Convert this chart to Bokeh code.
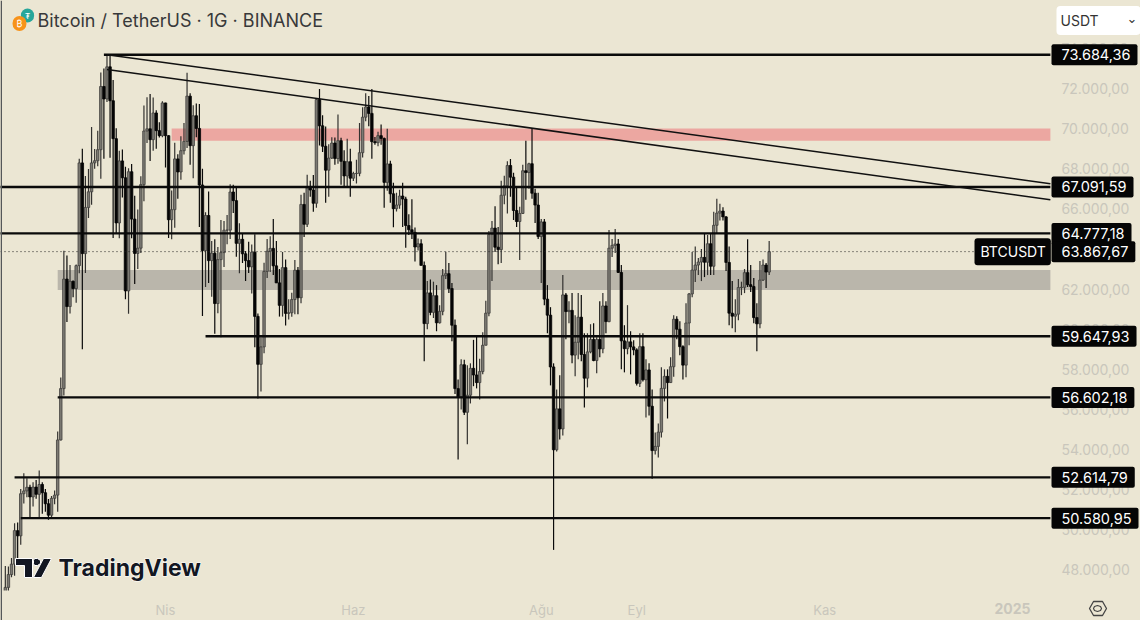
#BTCUSDT daily candles with levels, trend lines and zones
import pandas as pd
from bokeh.plotting import figure
from bokeh.embed import file_html
from bokeh.resources import INLINE
from bokeh.models import FixedTicker, Label, PolyAnnotation, Range1d, GlobalInlineStyleSheet

#candles, one per day from 9 Feb 2024, one row per month
first_day = "2024-02-09"
opens = [45290,47130,47770,48290,49960,49700,51800,51940,52120,51640,52130,51770,52260,51850,51300,50730,51570,51730,54480,57040,62500,
    61130,62390,62030,63170,68290,63770,66070,66850,68290,68400,68950,72100,71480,73080,71390,69500,65300,68390,67550,61910,67850,65490,63780,64040,67210,69880,69990,69450,70780,69900,69650,
    71280,69650,65460,65960,68490,67840,68900,69360,71620,69150,70640,70010,67190,63920,65670,63420,63790,61280,63470,63820,64940,64940,66840,66410,64280,64480,63760,63420,63110,63840,
    60640,58250,59120,62880,63890,64030,63160,62310,61190,63070,60790,60820,61480,62940,61570,66220,65230,67050,66940,66280,71450,70140,69120,67930,68530,69280,68510,69400,68370,67640,68350,
    67530,67760,67770,68800,70570,71080,70760,69350,69300,69650,69510,67320,68240,66750,66010,66190,66640,66490,65170,64960,64830,64100,64260,63180,60280,61810,60840,61670,60320,60890,
    62670,62770,62030,60200,57040,56630,58230,55860,56710,58050,57720,57340,57890,59200,60800,64720,65040,64090,63970,66680,67150,68160,67580,65920,65370,65770,67900,67810,68250,66780,66190,
    64620,65350,61500,60700,58120,53990,56030,55030,61710,60880,60940,58710,59350,60600,58740,57560,58870,59490,58440,59490,59020,61160,60380,64040,64180,64250,62830,59420,59030,59370,59120,
    58970,57300,59130,57480,57970,56160,53950,54160,54870,57050,57650,57340,58130,60500,60000,59130,58210,60310,61760,62950,63200,63350,63580,63340,64260,63140,65180,65790,65890,65600,
    63330,60800,60650,60750,62080,62090,62820,62220,62130,60580,60270,62450,63200,62850]
highs = [48200,48170,48590,50330,50360,52040,52820,52570,52250,52370,52480,52960,52370,52040,51540,51690,51960,54900,57590,63910,63680,
    63200,62430,63230,68500,69000,67640,67990,70080,68980,69900,72800,73000,73650,73684,72420,70020,68900,68960,68100,68030,68240,66650,65970,67620,71150,71560,71730,71550,70920,70320,71370,
    71290,69670,66910,69290,68720,69620,70280,72780,71760,71170,71250,71230,68000,65830,66870,64400,64480,64100,65450,65390,65700,67230,67200,67080,65280,64800,63900,64360,64220,64730,
    60780,59600,63320,64500,64640,65490,64400,63000,63850,63470,61490,61820,63450,63100,66700,66800,67700,67400,67690,71500,71980,70670,70100,69220,69570,69560,70700,69550,68920,69500,69000,
    67850,68450,70280,71060,71760,71630,71980,69580,69850,70200,69560,69990,68400,67300,66800,66950,67300,66600,65730,66480,65070,64520,64490,63370,62400,62480,62370,62200,61200,63000,
    63860,63300,62300,60480,57500,58500,58480,58200,58300,59470,59620,58530,59850,61420,64900,65400,66130,65100,67400,67650,68370,68480,67800,67100,66100,68200,69400,68300,70000,67000,66800,
    65500,65500,62200,61100,58300,57000,57700,62700,61800,61400,61800,60700,61800,61700,59800,59800,60250,60300,59600,61400,61800,61400,64950,64500,65000,64500,63200,60200,61200,59900,59450,
    59050,59800,59800,58500,58300,57000,54850,55300,58100,58000,58000,58600,60700,60650,60400,59200,61300,61800,63850,64130,63550,64000,64750,64700,64800,65850,66500,66260,66080,65650,
    64130,62400,61500,62500,62370,63000,64480,63200,62550,61300,63400,63480,63300,64400]
lows = [45240,46800,47630,47710,48300,49250,51310,51620,50620,51160,51550,50620,50800,50900,50500,50550,51280,50900,54450,56700,60360,
    60780,61600,61320,62790,59000,62800,65550,66200,68000,68130,67500,68500,71330,68550,64550,64800,64530,66570,61500,60770,64530,62260,63000,63800,66380,69280,68380,68900,69000,69560,69570,
    68060,64550,64490,65060,66500,67450,68710,69040,68200,67520,69570,65090,60660,62100,62300,61620,59770,60800,59600,63100,64230,64500,65800,63610,62790,63300,62400,62800,61780,59100,
    56550,56900,58800,62550,62850,62700,62300,60630,60630,60190,60490,60620,60750,60750,61300,64600,65100,66600,65860,66060,69160,68830,66300,66600,68490,68200,68250,67200,67100,67130,66600,
    67390,67260,67620,68560,70370,70120,68500,69200,69120,69200,66050,66900,66300,65080,65870,66000,65100,64060,64700,64500,63380,63920,63200,58400,60000,60700,60560,59900,60280,60700,
    62500,61800,59400,56770,53500,56000,55720,54260,56300,57160,57050,56500,57750,59200,60650,62400,63850,63240,63300,66230,65770,66600,65440,65100,63450,65740,66450,67000,66500,65300,64500,
    62300,61200,59800,57200,49000,53900,54500,54700,59500,60300,58300,57650,58500,58400,56100,57100,58800,58400,57800,58600,58800,59800,60350,63600,63800,62800,58000,57850,58750,57750,58700,
    57200,57120,57400,55600,55700,52550,53750,53600,54600,56400,55550,57320,57630,59500,58700,57500,57600,59200,61600,62350,62700,62400,62600,62700,62700,62700,64800,65420,65420,62900,
    60200,60050,59850,60450,61700,61800,62100,61850,60300,58900,60050,62400,62050,62700]
closes = [47130,47770,48290,49960,49700,51800,51940,52120,51640,52130,51770,52260,51850,51300,50730,51570,51730,54480,57040,62500,61130,
    62390,62030,63170,68290,63770,66070,66850,68290,68400,68950,72100,71480,73080,71390,69500,65300,68390,67550,61910,67850,65490,63780,64040,67210,69880,69990,69450,70780,69900,69650,71280,
    69650,65460,65960,68490,67840,68900,69360,71620,69150,70640,70010,67190,63920,65670,63420,63790,61280,63470,63820,64940,64940,66840,66410,64280,64480,63760,63420,63110,63840,60640,
    58250,59120,62880,63890,64030,63160,62310,61190,63070,60790,60820,61480,62940,61570,66220,65230,67050,66940,66280,71450,70140,69120,67930,68530,69280,68510,69400,68370,67640,68350,67530,
    67760,67770,68800,70570,71080,70760,69350,69300,69650,69510,67320,68240,66750,66010,66190,66640,66490,65170,64960,64830,64100,64260,63180,60280,61810,60840,61670,60320,60890,62670,
    62770,62030,60200,57040,56630,58230,55860,56710,58050,57720,57340,57890,59200,60800,64720,65040,64090,63970,66680,67150,68160,67580,65920,65370,65770,67900,67810,68250,66780,66190,64620,
    65350,61500,60700,58120,53990,56030,55030,61710,60880,60940,58710,59350,60600,58740,57560,58870,59490,58440,59490,59020,61160,60380,64040,64180,64250,62830,59420,59030,59370,59120,58970,
    57300,59130,57480,57970,56160,53950,54160,54870,57050,57650,57340,58130,60500,60000,59130,58210,60310,61760,62950,63200,63350,63580,63340,64260,63140,65180,65790,65890,65600,63330,
    60800,60650,60750,62080,62090,62820,62220,62130,60580,60270,62450,63200,62850,63867.67]

#horizontal levels: price, text on the tag, day the line starts
level_prices = [73684.36, 67091.59, 64777.18, 59647.93, 56602.18, 52614.79, 50580.95]
level_labels = ["73.684,36", "67.091,59", "64.777,18", "59.647,93", "56.602,18", "52.614,79", "50.580,95"]
level_starts = ["2024-03-12", "2024-02-01", "2024-02-01", "2024-04-14", "2024-02-26", "2024-02-12", "2024-02-14"]

#trend lines from the top, the second one starts a bit lower
trend_starts = [73684, 72950]
trend_ends = [67250, 66450]

#zones
zone_left = ["2024-04-03", "2024-02-26"]
zone_top = [70000, 62950]
zone_bottom = [69400, 61950]
zone_colors = ["#eca7a1", "#bab6ab"]

#axes
price_ticks = [74000, 72000, 70000, 68000, 66000, 64000, 62000, 60000, 58000, 56000, 54000, 52000, 50000, 48000]
price_tick_labels = ["74.000,00", "72.000,00", "70.000,00", "68.000,00", "66.000,00", "64.000,00", "62.000,00",
                     "60.000,00", "58.000,00", "56.000,00", "54.000,00", "52.000,00", "50.000,00", "48.000,00"]
month_ticks = ["2024-04-01", "2024-06-01", "2024-08-01", "2024-09-01", "2024-11-01"]
month_labels = ["Nis", "Haz", "Ağu", "Eyl", "Kas"]

last_price = 63867.67
bg = "#ebe6d3"
FONT = "Inter"
TICK_COLOR = "#c9c6bc"
DAY_MS = 86400000
PRICE_BOTTOM = 46970
PAGE_BOTTOM = 45480
april = pd.Timestamp("2024-04-01")
left_day = april - pd.Timedelta(days=53.57)
right_day = april + pd.Timedelta(days=316.56)
chart_end = april + pd.Timedelta(days=287.3)
last_line_day = april + pd.Timedelta(days=262.6)

df = pd.DataFrame({"o": opens, "h": highs, "l": lows, "c": closes})
df["day"] = pd.date_range(first_day, periods=len(df))
up = df[df.c >= df.o]
down = df[df.c < df.o]

#the frame fills the whole page, the axes are pinned inside it
p = figure(width=1140, height=620, x_axis_type="datetime", y_axis_location="right",
           x_range=Range1d(left_day, right_day), y_range=Range1d(PAGE_BOTTOM, 76387),
           output_backend="svg", toolbar_location=None,
           min_border_left=0, min_border_top=0, min_border_right=0, min_border_bottom=0,
           background_fill_color=bg, border_fill_color=bg, outline_line_color=None)
p.stylesheets = [GlobalInlineStyleSheet(css="body{background:%s}" % bg)]
p.grid.visible = False

#zones under the candles
for i in range(len(zone_left)):
    p.quad(left=[pd.Timestamp(zone_left[i])], right=[chart_end], top=[zone_top[i]], bottom=[zone_bottom[i]],
           fill_color=zone_colors[i], line_color=None)

#candles
p.segment(up.day, up.h, up.day, up.l, line_color="#333230", line_width=1.2)
p.segment(down.day, down.h, down.day, down.l, line_color="#0a0a0a", line_width=1.2)
p.vbar(up.day, DAY_MS * 0.8, up.o, up.c, fill_color="#7c7a73", line_color="#403f3c", line_width=0.8)
p.vbar(down.day, DAY_MS * 0.8, down.o, down.c, fill_color="#050505", line_color="#050505", line_width=0.8)

#the time strip hides what runs under the chart
p.quad(left=[left_day], right=[right_day], top=[PRICE_BOTTOM], bottom=[PAGE_BOTTOM], fill_color=bg, line_color=None)

#levels and trend lines
for price, start in zip(level_prices, level_starts):
    p.line([pd.Timestamp(start), chart_end], [price, price], line_color="#0a0a0a", line_width=2.4)
for a, b in zip(trend_starts, trend_ends):
    p.line([pd.Timestamp("2024-03-13"), chart_end], [a, b], line_color="#111111", line_width=1.5)
p.line([left_day, last_line_day], [last_price, last_price], line_color="#222222", line_width=1, line_dash=[1, 3])

#axes with the turkish number format
month_ms = [pd.Timestamp(d).value / 1e6 for d in month_ticks]
p.yaxis.fixed_location = chart_end.value / 1e6
p.yaxis.ticker = FixedTicker(ticks=price_ticks)
p.yaxis.major_label_overrides = dict(zip(price_ticks, price_tick_labels))
p.xaxis.fixed_location = PRICE_BOTTOM
p.xaxis.ticker = FixedTicker(ticks=month_ms)
p.xaxis.major_label_overrides = dict(zip(month_ms, month_labels))
for ax in [p.xaxis[0], p.yaxis[0]]:
    ax.axis_line_color = None
    ax.major_tick_line_color = None
    ax.minor_tick_line_color = None
    ax.major_tick_in = 0
    ax.major_tick_out = 0
    ax.major_label_text_color = TICK_COLOR
    ax.major_label_text_font = FONT
    ax.major_label_text_font_size = "14px"
p.yaxis.major_label_standoff = 11
p.xaxis.major_label_text_font_size = "13px"
p.xaxis.major_label_standoff = 11

#page pixel to the screen units of the annotations
def sy(y):
    return 620 - y

def text(x, y, txt, **kw):
    kw.setdefault("text_font", FONT)
    kw.setdefault("text_baseline", "middle")
    lab = Label(x=x, y=sy(y), x_units="screen", y_units="screen", text=txt, **kw)
    p.add_layout(lab)
    return lab

def shape(xs, ys, **kw):
    p.add_layout(PolyAnnotation(xs=xs, ys=[sy(v) for v in ys], xs_units="screen", ys_units="screen", line_alpha=1, **kw))

#edge of the window
shape([0, 1.5, 1.5, 0], [0, 0, 620, 620], fill_color="#55585a", fill_alpha=1, line_color=None)

#price tags over the axis, padding is left, right, top, bottom
for price, lbl in zip(level_prices + [last_price], level_labels + ["63.867,67"]):
    p.add_layout(Label(x=1051, y=price, x_units="screen", y_units="data", text=lbl,
                       text_color="white", text_font=FONT, text_font_size="14.5px", text_baseline="middle",
                       background_fill_color="#050505", padding=(10, 7, 5, 5), border_radius=2))
p.add_layout(Label(x=974, y=last_price, x_units="screen", y_units="data", text="BTCUSDT",
                   text_color="white", text_font=FONT, text_font_size="14px", text_baseline="middle",
                   background_fill_color="#050505", padding=(6, 5, 5, 5), border_radius=3))

#header
text(27, 15, "₮", text_color="white", text_font_size="8px", background_fill_color="#26a69a",
     padding=(4, 4, 2, 2), border_radius=7, text_align="center")
text(19, 23, "₿", text_color="white", text_font_size="9px", background_fill_color="#f7931a",
     padding=(4, 4, 2, 2), border_radius=7, text_align="center")
text(37, 20, "Bitcoin / TetherUS · 1G · BINANCE", text_color="#38393a", text_font_size="18px")
text(1056, 20, "USDT", text_color="#333333", text_font_size="14px", background_fill_color="white",
     padding=(4, 42, 6, 6), border_radius=4)
text(1126, 18, "⌄", text_color="#333333", text_font="DejaVu Sans", text_font_size="13px")

#tradingview mark, white halo under the letters
shape([15, 32, 32, 24, 24, 15], [558, 558, 577, 577, 565, 565], fill_color="#131722", fill_alpha=1, line_color="white", line_width=1)
shape([34, 37, 40, 40, 37, 34, 33, 33], [558, 558, 560, 563, 565, 565, 563, 560], fill_color="#131722", fill_alpha=1, line_color="white", line_width=1)
shape([43, 51, 41, 33], [558, 558, 577, 577], fill_color="#131722", fill_alpha=1, line_color="white", line_width=1)
text(58, 567, "TradingView", text_color="white", text_font_size="23px", text_font_style="bold",
     text_outline_color="white")
text(58, 567, "TradingView", text_color="#131722", text_font_size="23px", text_font_style="bold")

#bottom right
text(994, 608, "2025", text_color=TICK_COLOR, text_font_size="14px", text_font_style="bold")
shape([1089, 1093, 1102, 1106, 1102, 1093], [608, 601, 601, 608, 615, 615], fill_alpha=0, line_color="#444444", line_width=1.3)
shape([1094, 1097, 1100, 1101, 1100, 1097, 1094, 1093], [606, 605, 606, 608, 610, 611, 610, 608], fill_alpha=0, line_color="#444444", line_width=1.2)

open("out.html", "w").write(file_html(p, INLINE))
